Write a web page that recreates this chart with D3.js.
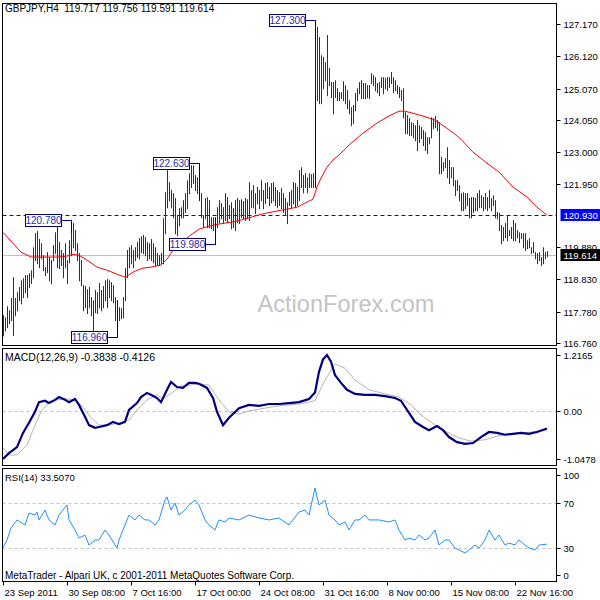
<!DOCTYPE html>
<html lang="en">
<head>
<meta charset="utf-8" />
<title>GBPJPY,H4</title>
<style>
  body { margin:0; background:#fff; }
  svg  { display:block; font-family:"Liberation Sans", Arial, sans-serif; }
  .lbl { font-size:9.5px; fill:#000; }
  .ttl { font-size:10px; fill:#000; }
</style>
</head>
<body>
<svg width="600" height="600"></svg>

<script src="https://cdn.jsdelivr.net/npm/d3@7"></script>
<script>
/* ---------- DATA ---------- */
// H4 bars, one value per bar, oldest first
const barHigh = [
  117.66,117.59,117.95,117.82,118.22,118.90,118.22,118.41,118.58,118.80,
  118.87,118.97,118.97,119.03,119.13,119.88,120.34,120.41,120.15,120.01,
  119.62,119.23,119.72,119.56,119.46,119.95,120.37,120.72,120.05,119.79,
  119.69,120.01,119.46,120.11,120.78,120.67,120.44,120.01,119.69,119.46,
  118.64,118.61,118.51,118.58,118.25,118.15,118.48,118.41,118.71,118.48,
  118.61,118.80,118.84,118.80,118.74,118.64,118.25,118.15,117.92,117.89,
  118.25,119.20,119.79,119.88,119.95,119.79,119.88,120.05,120.18,120.24,
  120.28,120.21,120.05,120.01,120.15,120.01,119.88,119.69,119.62,119.69,
  120.83,121.68,122.40,122.01,121.75,121.65,121.49,120.93,121.16,121.19,
  121.42,121.65,122.07,122.30,122.56,122.56,122.24,122.17,122.63,121.65,
  120.93,121.49,121.52,121.42,120.86,120.86,120.86,121.19,121.42,121.32,
  121.19,121.65,121.52,121.26,121.35,121.16,121.42,121.49,121.42,121.45,
  121.39,121.49,121.45,122.01,121.75,121.91,121.65,121.85,121.75,122.07,
  121.75,121.98,122.01,121.85,121.98,122.01,121.85,121.75,121.68,121.81,
  121.65,121.49,121.35,121.68,121.75,122.01,121.98,121.85,122.40,122.50,
  122.24,122.30,122.17,122.30,122.27,122.30,127.30,127.08,126.75,126.16,
  126.10,125.93,126.82,125.74,125.28,125.28,125.34,125.08,124.95,124.95,
  125.31,125.18,125.02,124.69,124.46,124.53,124.92,125.08,125.28,125.34,
  125.25,125.25,125.18,125.18,125.57,125.51,125.44,125.25,125.28,125.44,
  125.44,125.41,125.44,125.44,125.61,125.44,125.34,125.18,125.12,125.02,
  125.08,124.30,124.20,124.10,123.97,123.94,123.87,124.04,123.87,123.81,
  123.71,123.64,123.48,123.48,124.13,124.10,124.17,124.04,123.97,122.83,
  122.66,122.79,123.15,122.73,122.50,122.50,122.07,122.07,121.91,121.65,
  121.68,121.65,121.65,121.49,121.52,121.52,121.49,121.65,121.75,121.58,
  121.52,121.65,121.52,121.75,121.49,121.58,121.42,121.03,121.00,120.60,
  120.54,120.67,120.93,120.44,120.54,120.77,120.67,120.44,120.37,120.34,
  120.34,120.34,120.11,120.18,119.88,120.05,119.72,119.69,119.72,119.56,
  119.88,119.72,119.756
];
const barLow = [
  117.00,117.17,117.27,117.40,117.50,117.01,117.66,117.82,118.15,118.05,
  118.25,118.41,118.25,118.58,118.71,118.90,119.46,119.36,119.23,119.52,
  119.13,118.97,119.07,118.80,118.71,119.46,119.69,119.23,119.20,119.30,
  118.90,119.23,118.71,119.39,119.62,119.88,119.79,119.46,118.80,118.64,
  117.82,117.92,117.73,117.92,117.66,117.07,117.76,117.73,117.92,117.82,
  117.92,118.15,117.92,118.25,118.15,118.08,117.50,116.96,117.50,117.56,
  117.59,118.15,118.90,119.23,119.36,119.23,119.46,119.56,119.52,119.72,
  119.69,119.62,119.46,119.52,119.46,119.39,119.30,119.30,119.30,119.36,
  119.36,120.34,121.19,121.42,121.19,120.86,120.34,120.28,120.60,120.86,
  120.86,121.03,121.16,121.65,121.85,121.98,121.75,121.65,121.42,120.86,
  120.54,120.83,120.54,120.54,120.50,120.44,119.98,120.54,120.70,120.83,
  120.67,120.77,120.70,120.83,120.50,120.54,120.44,120.70,120.67,120.86,
  120.83,120.77,120.83,120.77,121.19,121.19,121.00,121.32,121.16,121.42,
  121.16,121.32,121.49,121.26,121.35,121.42,121.26,121.19,121.26,121.16,
  121.03,120.93,120.67,121.26,121.19,121.32,121.19,121.26,121.42,121.85,
  121.68,121.85,121.68,121.85,121.85,121.85,121.85,124.69,124.59,124.59,
  125.08,125.34,124.85,125.18,124.79,124.26,124.79,124.69,124.69,124.76,
  124.69,124.59,124.43,124.26,123.87,123.94,124.36,124.69,124.92,124.76,
  124.76,124.76,124.79,124.76,125.25,125.18,125.02,124.95,124.85,125.12,
  124.92,125.08,125.02,125.12,125.25,124.95,125.02,124.92,124.79,124.69,
  124.13,123.61,123.61,123.55,123.55,123.48,123.38,123.06,123.32,123.45,
  123.22,123.06,122.96,123.28,123.48,123.77,123.81,123.71,122.30,122.30,
  122.40,122.50,122.17,121.98,122.17,121.91,121.58,121.75,121.42,121.09,
  121.09,121.16,121.26,120.86,120.86,121.03,121.09,121.09,121.19,121.19,
  121.09,121.16,121.09,121.19,121.09,121.26,120.86,120.83,120.44,120.01,
  120.11,120.21,120.11,120.28,120.18,120.11,120.11,120.21,120.05,120.18,
  119.88,119.79,119.85,119.88,119.69,119.72,119.52,119.36,119.46,119.30,
  119.36,119.52,119.591
];

// red moving average, read at these bars
const maBars   = [0,4,9,14,20,27,32,35,38,42,47,52,57,61,66,70,74,79,82,85,89,93,98,103,108,114,119,124,129,139,147,153,155,157,159,162,165,169,174,180,187,193,198,201,205,210,216,222,226,229,235,242,248,255,262,267,272];
const maValues = [120.37,120.08,119.72,119.56,119.56,119.56,119.59,119.65,119.62,119.46,119.23,119.13,119.00,118.90,119.10,119.20,119.23,119.30,119.49,119.79,120.01,120.24,120.47,120.57,120.64,120.70,120.77,120.86,120.96,121.09,121.19,121.39,121.45,121.85,122.14,122.50,122.73,122.96,123.28,123.61,123.94,124.17,124.33,124.33,124.26,124.17,124.04,123.77,123.58,123.41,122.99,122.63,122.34,121.85,121.52,121.19,120.93];

// MACD(12,26,9)
const macdBars   = [0,3,7,10,13,16,18,21,23,26,28,31,33,36,38,41,43,46,48,52,55,58,61,63,67,69,72,74,77,79,82,84,87,90,93,96,98,102,105,107,110,113,118,123,128,133,138,143,148,153,156,158,160,162,164,166,169,172,176,181,186,191,196,199,202,206,210,213,217,220,223,227,231,235,239,243,247,251,255,259,263,267,272];
const macdValues = [-1.0478,-0.92,-0.79,-0.48,-0.26,-0.02,0.19,0.22,0.17,0.24,0.30,0.24,0.19,0.26,0.13,-0.13,-0.31,-0.37,-0.35,-0.31,-0.24,-0.29,-0.24,0.02,0.17,0.30,0.39,0.35,0.28,0.19,0.46,0.63,0.52,0.50,0.61,0.61,0.59,0.50,0.28,-0.02,-0.31,-0.15,0.06,0.13,0.11,0.15,0.15,0.17,0.19,0.26,0.40,0.85,1.12,1.2165,1.07,0.78,0.61,0.46,0.37,0.35,0.35,0.32,0.28,0.22,0.02,-0.24,-0.35,-0.42,-0.33,-0.42,-0.57,-0.68,-0.72,-0.70,-0.57,-0.46,-0.48,-0.52,-0.50,-0.48,-0.50,-0.46,-0.3838];
const signalBars   = [0,3,7,12,15,19,23,27,32,36,40,44,48,53,58,63,67,72,77,80,85,89,93,98,103,108,113,118,123,131,138,148,156,161,166,171,176,183,191,198,204,209,216,222,228,234,241,247,253,261,272];
const signalValues = [-0.81,-0.96,-0.96,-0.74,-0.42,-0.02,0.19,0.24,0.26,0.24,0.08,-0.15,-0.31,-0.31,-0.26,-0.20,0.02,0.24,0.35,0.26,0.41,0.54,0.56,0.59,0.56,0.24,-0.02,-0.07,0.00,0.06,0.11,0.15,0.22,0.67,1.02,0.93,0.67,0.46,0.37,0.30,0.13,-0.09,-0.31,-0.46,-0.59,-0.66,-0.63,-0.55,-0.50,-0.48,-0.4126];

// RSI(14)
const rsiBars   = [0,2,4,7,11,13,16,17,18,21,23,26,28,32,33,36,38,41,43,46,48,51,53,57,58,61,63,66,68,71,73,76,78,81,82,84,86,88,91,93,96,98,101,103,106,108,111,113,118,123,128,133,138,143,148,151,153,156,158,161,163,166,168,171,173,176,178,181,183,188,193,196,198,201,203,206,208,211,213,216,218,221,223,226,228,231,233,236,238,241,243,246,248,251,253,256,258,261,263,266,268,272];
const rsiValues = [30.0,37.2,48.0,55.2,50.7,61.4,59.6,62.3,55.2,64.1,55.2,50.7,59.6,68.6,55.2,46.2,39.0,41.7,32.7,37.2,37.2,46.2,41.7,30.0,37.2,50.7,59.6,55.2,59.6,55.2,55.2,50.7,55.2,73.1,75.8,64.1,70.4,59.6,64.1,68.6,73.1,68.6,55.2,50.7,46.2,55.2,53.4,57.0,55.2,59.6,57.0,55.2,57.0,50.7,62.3,64.1,59.6,83.9,68.6,73.1,59.6,55.2,50.7,53.4,46.2,55.2,55.2,59.6,55.2,55.2,53.4,55.2,46.2,37.2,39.0,37.2,41.7,37.2,39.0,46.2,32.7,37.2,37.2,30.0,28.3,25.6,28.3,32.7,30.0,37.2,46.2,37.2,41.7,32.7,34.5,32.7,37.2,32.7,30.0,28.3,32.7,33.5];

// swing labels: [bar, price, other end of the bar]
const swingLabels = [[34,120.78,120.34],[57,116.96,118.15],[98,122.63,121.42],[106,119.98,120.86],[156,127.30,121.85]];

// axis ticks
const priceTicks = [127.170,126.120,125.070,124.050,123.000,121.950,119.880,118.830,117.780,116.760];
const macdTicks  = [1.2165, 0, -1.0478];
const macdTickText = ["1.2165","0.00","-1.0478"];
const rsiLevels  = [70, 30];
const rsiTicks   = [100, 70, 30, 0];
const dateBars   = [0,32,64,96,128,160,192,224,256];
const dateLabels = ["23 Sep 2011","30 Sep 08:00","7 Oct 16:00","17 Oct 00:00","24 Oct 08:00","31 Oct 16:00","8 Nov 00:00","15 Nov 08:00","22 Nov 16:00"];
const resistance = 120.930;
const lastPrice  = 119.614;

/* ---------- LAYOUT ---------- */
const L = 2.5, R = 556.5;
const main = {top:3.5, bottom:345.5};
const macdP = {top:348.5, bottom:465.5};
const rsiP  = {top:468.5, bottom:581.5};
const barColor = "#0f3a58";

const svg = d3.select("svg");

/* ---------- SCALES ---------- */
const x     = d3.scaleLinear().domain([0, 272]).range([3, 547]);
const yMain = d3.scaleLinear().domain([116.76, 127.17]).range([342.7, 24.3]);
const yMacd = d3.scaleLinear().domain([-1.0478, 1.2165]).range([459, 355]);
const yRsi  = d3.scaleLinear().domain([0, 100]).range([581.5, 470]);
const px = i => Math.round(x(i)) + 0.5;

/* ---------- CLIPS ---------- */
const defs = svg.append("defs");
[["clipMain",main],["clipMacd",macdP],["clipRsi",rsiP]].forEach(([id,p]) => {
  defs.append("clipPath").attr("id",id)
    .append("rect").attr("x",L).attr("y",p.top).attr("width",R-L).attr("height",p.bottom-p.top);
});

/* ---------- MAIN PANEL ---------- */
const gMain = svg.append("g").attr("clip-path","url(#clipMain)");

// watermark
gMain.append("text")
  .attr("x",346).attr("y",312).attr("text-anchor","middle")
  .attr("font-size","23.6px").attr("fill","#c4c4c4")
  .text("ActionForex.com");

// resistance & bid lines
gMain.append("line")
  .attr("x1",L).attr("x2",R).attr("y1",Math.round(yMain(resistance))+0.5).attr("y2",Math.round(yMain(resistance))+0.5)
  .attr("stroke","#0000ff").attr("stroke-dasharray","4,3");
gMain.append("line")
  .attr("x1",L).attr("x2",R).attr("y1",Math.round(yMain(lastPrice))+0.5).attr("y2",Math.round(yMain(lastPrice))+0.5)
  .attr("stroke","#c0c0c0");

// bars
gMain.append("g").selectAll("line")
  .data(barHigh.map((h,i) => ({i, h, l:barLow[i]})))
  .join("line")
    .attr("x1",d=>px(d.i)).attr("x2",d=>px(d.i))
    .attr("y1",d=>yMain(d.h)).attr("y2",d=>yMain(d.l)+1)
    .attr("stroke",barColor).attr("stroke-width",1);

// moving average
gMain.append("path")
  .datum(d3.zip(maBars, maValues))
  .attr("fill","none").attr("stroke","#ff0000").attr("stroke-width",1)
  .attr("d", d3.line().x(d=>x(d[0])).y(d=>yMain(d[1])));

// swing labels
const sw = gMain.append("g").selectAll("g").data(swingLabels).join("g");
sw.append("path")
  .attr("fill","none").attr("stroke","#000080")
  .attr("d", d => {
    const bx = px(d[0]), y0 = Math.round(yMain(d[1]))+0.5;
    return `M${bx-10},${y0}H${bx}V${yMain(d[2])}`;
  });
sw.append("rect")
  .attr("x",d=>px(d[0])-46).attr("y",d=>Math.round(yMain(d[1]))-5.5)
  .attr("width",36).attr("height",12)
  .attr("fill","#fff").attr("stroke","#000080");
sw.append("text")
  .attr("x",d=>px(d[0])-28).attr("y",d=>Math.round(yMain(d[1]))+4)
  .attr("text-anchor","middle").attr("font-size","10px").attr("fill","#2a2aa0")
  .text(d=>d[1].toFixed(3));

/* ---------- MACD PANEL ---------- */
const gMacd = svg.append("g").attr("clip-path","url(#clipMacd)");
gMacd.append("line")
  .attr("x1",L).attr("x2",R).attr("y1",Math.round(yMacd(0))+0.5).attr("y2",Math.round(yMacd(0))+0.5)
  .attr("stroke","#c0c0c0").attr("stroke-dasharray","3,3");
gMacd.append("path")
  .datum(d3.zip(signalBars, signalValues))
  .attr("fill","none").attr("stroke","#b4b4b4").attr("stroke-width",1)
  .attr("d", d3.line().x(d=>x(d[0])).y(d=>yMacd(d[1])));
gMacd.append("path")
  .datum(d3.zip(macdBars, macdValues))
  .attr("fill","none").attr("stroke","#000080").attr("stroke-width",2.2)
  .attr("d", d3.line().x(d=>x(d[0])).y(d=>yMacd(d[1])));

/* ---------- RSI PANEL ---------- */
const gRsi = svg.append("g").attr("clip-path","url(#clipRsi)");
gRsi.selectAll("line.lvl").data(rsiLevels).join("line")
  .attr("x1",L).attr("x2",R).attr("y1",d=>Math.round(yRsi(d))+0.5).attr("y2",d=>Math.round(yRsi(d))+0.5)
  .attr("stroke","#c0c0c0").attr("stroke-dasharray","3,3");
gRsi.append("path")
  .datum(d3.zip(rsiBars, rsiValues))
  .attr("fill","none").attr("stroke","#1e90ff").attr("stroke-width",1)
  .attr("d", d3.line().x(d=>x(d[0])).y(d=>yRsi(d[1])));

/* ---------- FRAMES ---------- */
[main, macdP, rsiP].forEach(p => {
  svg.append("rect").attr("x",L).attr("y",p.top).attr("width",R-L).attr("height",p.bottom-p.top)
    .attr("fill","none").attr("stroke","#000");
});

/* ---------- PANEL TITLES ---------- */
svg.append("text").attr("class","ttl").attr("x",5).attr("y",12).style("white-space","pre")
  .text("GBPJPY,H4  119.717 119.756 119.591 119.614");
svg.append("text").attr("class","ttl").attr("x",5).attr("y",361).style("font-size","10.5px")
  .text("MACD(12,26,9) -0.3838 -0.4126");
svg.append("text").attr("class","lbl").attr("x",5).attr("y",481)
  .text("RSI(14) 33.5070");
svg.append("text").attr("class","ttl").attr("x",5).attr("y",579)
  .text("MetaTrader - Alpari UK, c 2001-2011 MetaQuotes Software Corp.");

/* ---------- RIGHT AXES ---------- */
const axR = svg.append("g");
function rightTicks(vals, scale, texts, clampTop, clampBot){
  vals.forEach((v,k) => {
    let yy = Math.round(scale(v));
    if (clampTop !== undefined) yy = Math.max(clampTop, Math.min(clampBot, yy));
    axR.append("line").attr("x1",R).attr("x2",R+4).attr("y1",yy+0.5).attr("y2",yy+0.5).attr("stroke","#000");
    axR.append("text").attr("class","lbl").attr("x",R+7).attr("y",yy+3.5)
      .text(texts ? texts[k] : v);
  });
}
rightTicks(priceTicks, yMain, priceTicks.map(v=>v.toFixed(3)));
rightTicks(macdTicks, yMacd, macdTickText);
rightTicks(rsiTicks, yRsi, rsiTicks.map(String), 475, 575);

// highlighted price tags
[[resistance,"#0000ff"],[lastPrice,"#000000"]].forEach(([v,c]) => {
  const yy = Math.round(yMain(v));
  axR.append("rect").attr("x",R+4).attr("y",yy-6).attr("width",44).attr("height",12).attr("fill",c);
  axR.append("text").attr("class","lbl").attr("x",R+7).attr("y",yy+3.5).style("fill","#fff")
    .text(v.toFixed(3));
});

/* ---------- DATE AXIS ---------- */
const axB = svg.append("g");
dateBars.forEach((b,k) => {
  const xx = Math.round(x(b)) + 0.5;
  axB.append("line").attr("x1",xx).attr("x2",xx).attr("y1",rsiP.bottom).attr("y2",rsiP.bottom+4).attr("stroke","#000");
  axB.append("text").attr("class","lbl").attr("x",xx+1).attr("y",596).text(dateLabels[k]);
});
</script>
</body>
</html>
